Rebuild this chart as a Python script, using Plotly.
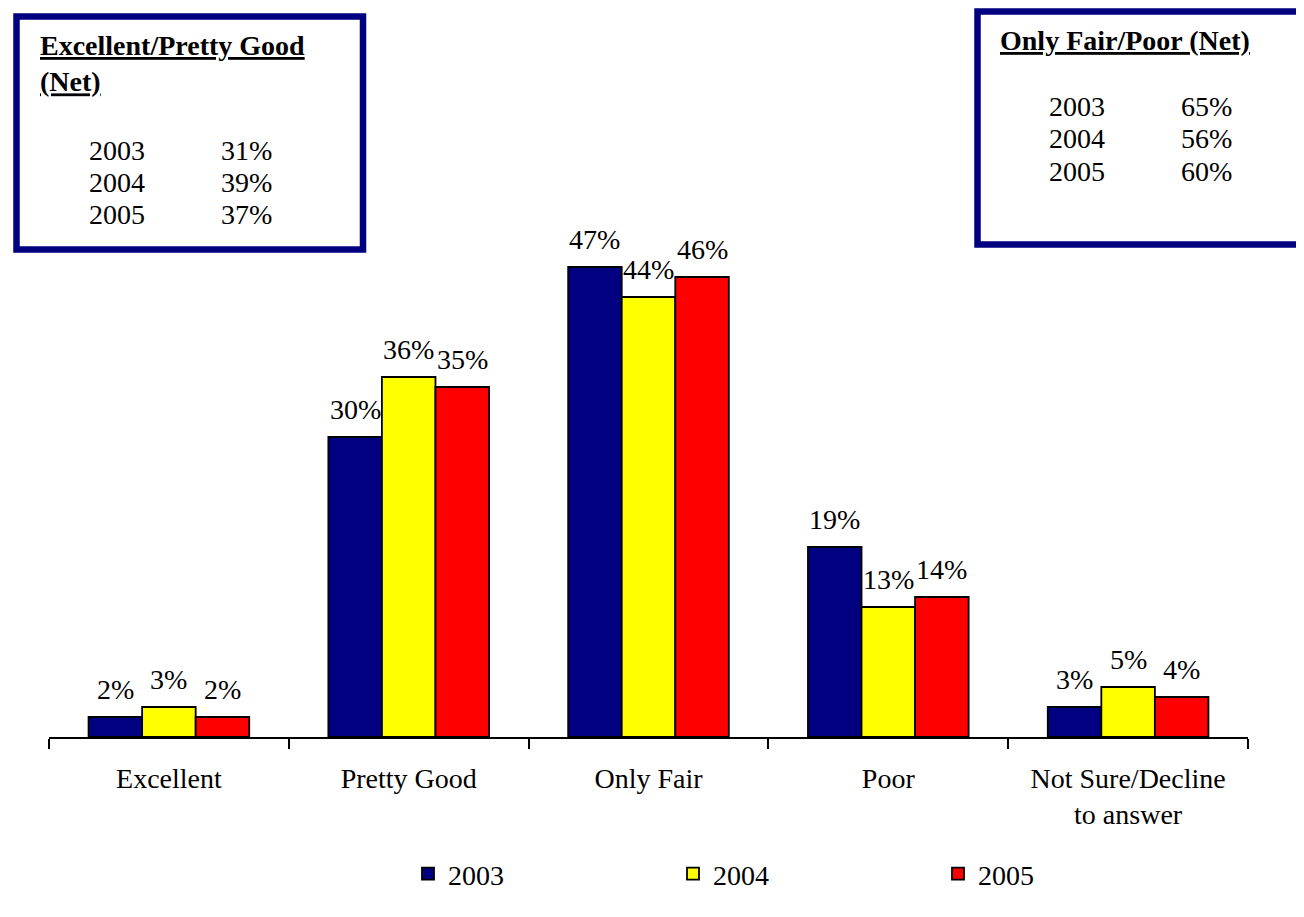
import plotly.graph_objects as go

categories = ["Excellent", "Pretty Good", "Only Fair", "Poor", "Not Sure/Decline<br>to answer"]
years = ["2003", "2004", "2005"]
values = {
    "2003": [2, 30, 47, 19, 3],
    "2004": [3, 36, 44, 13, 5],
    "2005": [2, 35, 46, 14, 4],
}
colors = {"2003": "#000080", "2004": "#FFFF00", "2005": "#FF0000"}

box_left_title = "Excellent/Pretty Good<br>(Net)"
box_left_years = ["2003", "2004", "2005"]
box_left_vals = ["31%", "39%", "37%"]
box_right_title = "Only Fair/Poor (Net)"
box_right_years = ["2003", "2004", "2005"]
box_right_vals = ["65%", "56%", "60%"]

W, H = 1304, 917
ML, MR, MT, MB = 41, 64, 229, 188
PW = W - ML - MR
PH = H - MT - MB
YMAX = 50
BARGAP = 0.33
FONT = "Liberation Serif"
FS = 28


def px_x(px):
    return (px - ML) / PW


def px_y(py):
    return (H - MB - py) / PH


fig = go.Figure()
for y in years:
    fig.add_trace(go.Bar(
        name=y, x=categories, y=values[y],
        marker=dict(color=colors[y], line=dict(color="black", width=1.8)),
    ))

annotations = []
bw = (1 - BARGAP) / len(years)
for i, y in enumerate(years):
    for j, v in enumerate(values[y]):
        annotations.append(dict(
            x=j + (i - 1) * bw, y=v, xref="x", yref="y",
            text=f"{v}%", showarrow=False, yanchor="bottom", yshift=10,
            font=dict(family=FONT, size=FS, color="black"),
        ))


def add_box(x0, y0, x1, y1):
    fig.add_shape(type="rect", xref="paper", yref="paper",
                  x0=px_x(x0), x1=px_x(x1), y0=px_y(y0), y1=px_y(y1),
                  line=dict(color="#000080", width=6.5), fillcolor="white", layer="above")


add_box(8.5, 8.5, 355, 241.5)
add_box(969.5, 3.5, 1300, 236.5)


def txt(px, py, text):
    annotations.append(dict(
        x=px_x(px), y=px_y(py), xref="paper", yref="paper", text=text,
        showarrow=False, xanchor="left", yanchor="middle", align="left",
        font=dict(family=FONT, size=FS, color="black"),
    ))


title_l = "<br>".join(f"<b><u>{t}</u></b>" for t in box_left_title.split("<br>"))
txt(30, 56, title_l)
for k in range(3):
    txt(79, 142 + k * 32.5, box_left_years[k])
    txt(211, 142 + k * 32.5, box_left_vals[k])

txt(990, 32, f"<b><u>{box_right_title}</u></b>")
for k in range(3):
    txt(1039, 98 + k * 32.5, box_right_years[k])
    txt(1171, 98 + k * 32.5, box_right_vals[k])

fig.update_layout(
    width=W, height=H,
    margin=dict(l=ML, r=MR, t=MT, b=MB, autoexpand=False),
    paper_bgcolor="white", plot_bgcolor="white",
    barmode="group", bargap=BARGAP, bargroupgap=0,
    font=dict(family=FONT, size=FS, color="black"),
    showlegend=True,
    legend=dict(orientation="h", x=px_x(400), xanchor="left",
                y=px_y(866), yanchor="middle",
                entrywidth=220, entrywidthmode="pixels",
                font=dict(family=FONT, size=FS, color="black"),
                bgcolor="rgba(0,0,0,0)"),
    annotations=annotations,
    xaxis=dict(showline=True, linecolor="black", linewidth=1.8,
               ticks="outside", tickson="boundaries", ticklen=10,
               tickcolor="black", tickwidth=1.8, showgrid=False,
               ticklabelstandoff=15,
               tickfont=dict(family=FONT, size=FS, color="black")),
    yaxis=dict(range=[0, YMAX], visible=False, showgrid=False, zeroline=False),
)

fig.write_html("out.html")
